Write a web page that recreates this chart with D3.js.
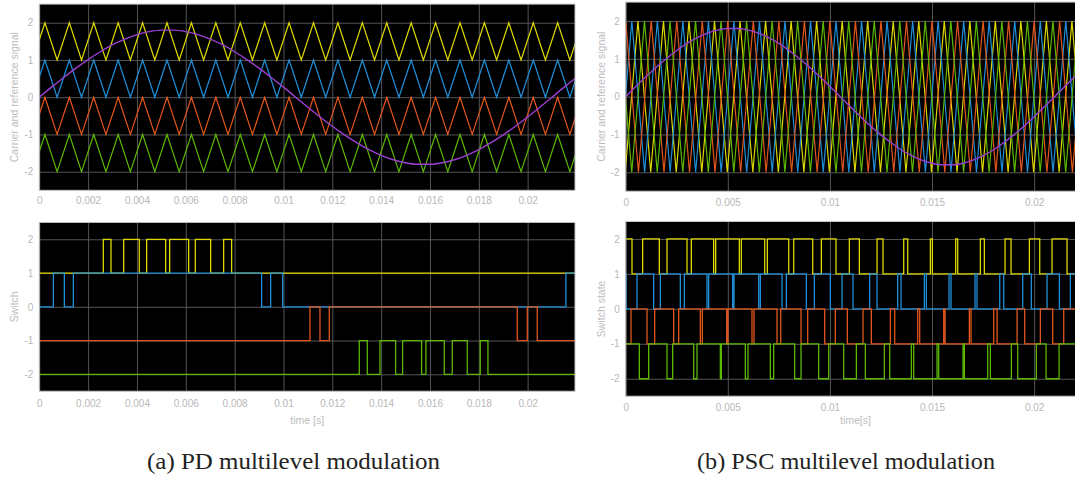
<!DOCTYPE html>
<html>
<head>
<meta charset="utf-8">
<script src="https://cdn.jsdelivr.net/npm/d3@7"></script>
<style>
  body { margin: 0; background: #fff; }
  svg { display: block; }
  .tick text { fill: #b8b8b8; font-family: "Liberation Sans", Arial, sans-serif; font-size: 10px; }
  .tick line { stroke: #555; }
  .axis-title { fill: #bdbdbd; font-family: "Liberation Sans", Arial, sans-serif; font-size: 10.5px; }
  .caption { fill: #222; font-family: "Liberation Serif", "Times New Roman", serif; font-size: 24px; }
</style>
</head>
<body>
<svg id="chart" width="1075" height="477"></svg>
<script>
// ---- data (times in ms) ----
const seriesColors = ['#dcd800', '#1e8fd8', '#e2561c', '#5cb800'];   // yellow, blue, orange, green
const refColor = '#9b3fd0';

// reference signal, sampled every 0.5 ms
const refTimes = [0, 0.5, 1, 1.5, 2, 2.5, 3, 3.5, 4, 4.5, 5, 5.5, 6, 6.5, 7, 7.5, 8, 8.5, 9, 9.5,
  10, 10.5, 11, 11.5, 12, 12.5, 13, 13.5, 14, 14.5, 15, 15.5, 16, 16.5, 17, 17.5, 18, 18.5, 19, 19.5,
  20, 20.5, 21, 21.5, 22, 22.5];
const refValues = [0, 0.27, 0.53, 0.78, 1.01, 1.22, 1.41, 1.56, 1.68, 1.76, 1.8, 1.8, 1.76, 1.68, 1.56, 1.41,
  1.22, 1.01, 0.78, 0.53, 0.27, 0, -0.27, -0.53, -0.78, -1.01, -1.22, -1.41, -1.56, -1.68, -1.76, -1.8,
  -1.8, -1.76, -1.68, -1.56, -1.41, -1.22, -1.01, -0.78, -0.53, -0.27, 0, 0.27, 0.53, 0.78];

// PD carriers: shared vertex times (first one is a trough)
const pdCarrierTimes = [-0.27, 0.23, 0.73, 1.23, 1.73, 2.23, 2.73, 3.23, 3.73, 4.23, 4.73, 5.23, 5.73, 6.23,
  6.73, 7.23, 7.73, 8.23, 8.73, 9.23, 9.73, 10.23, 10.73, 11.23, 11.73, 12.23, 12.73, 13.23, 13.73, 14.23,
  14.73, 15.23, 15.73, 16.23, 16.73, 17.23, 17.73, 18.23, 18.73, 19.23, 19.73, 20.23, 20.73, 21.23, 21.73, 22.23];
const pdLow = [1, 0, -1, -2];
const pdHigh = [2, 1, 0, -1];

// PD switch states: start state (0 = low level, 1 = high level) and toggle times
const pdSwitchStart = [0, 0, 0, 0];
const pdEdgesYellow = [2.622, 2.936, 3.455, 4.096, 4.397, 5.175, 5.339, 6.117, 6.390, 7.018, 7.550, 7.877];
const pdEdgesBlue = [0.575, 1.025, 1.394, 9.106, 9.475, 9.966, 21.568];
const pdEdgesOrange = [11.085, 11.495, 11.877, 19.575, 19.985, 20.394];
const pdEdgesGreen = [13.105, 13.433, 13.952, 14.593, 14.880, 15.658, 15.835, 16.586, 16.914, 17.528, 18.060, 18.374];

// PSC carriers (-2..2), vertex times, first one is a trough
const pscCarrierYellow = [-0.025, 0.6, 1.225, 1.85, 2.475, 3.1, 3.725, 4.35, 4.975, 5.6, 6.225, 6.85, 7.475,
  8.1, 8.725, 9.35, 9.975, 10.6, 11.225, 11.85, 12.475, 13.1, 13.725, 14.35, 14.975, 15.6, 16.225, 16.85,
  17.475, 18.1, 18.725, 19.35, 19.975, 20.6, 21.225, 21.85, 22.475, 23.1];
const pscCarrierBlue = [-0.325, 0.3, 0.925, 1.55, 2.175, 2.8, 3.425, 4.05, 4.675, 5.3, 5.925, 6.55, 7.175,
  7.8, 8.425, 9.05, 9.675, 10.3, 10.925, 11.55, 12.175, 12.8, 13.425, 14.05, 14.675, 15.3, 15.925, 16.55,
  17.175, 17.8, 18.425, 19.05, 19.675, 20.3, 20.925, 21.55, 22.175, 22.8];
const pscCarrierOrange = [-0.625, 0, 0.625, 1.25, 1.875, 2.5, 3.125, 3.75, 4.375, 5, 5.625, 6.25, 6.875,
  7.5, 8.125, 8.75, 9.375, 10, 10.625, 11.25, 11.875, 12.5, 13.125, 13.75, 14.375, 15, 15.625, 16.25,
  16.875, 17.5, 18.125, 18.75, 19.375, 20, 20.625, 21.25, 21.875, 22.5, 23.125];
const pscCarrierGreen = [-0.955, -0.33, 0.295, 0.92, 1.545, 2.17, 2.795, 3.42, 4.045, 4.67, 5.295, 5.92,
  6.545, 7.17, 7.795, 8.42, 9.045, 9.67, 10.295, 10.92, 11.545, 12.17, 12.795, 13.42, 14.045, 14.67, 15.295,
  15.92, 16.545, 17.17, 17.795, 18.42, 19.045, 19.67, 20.295, 20.92, 21.545, 22.17, 22.795];

// PSC switch states
const pscSwitchStart = [1, 1, 0, 1];
const pscEdgesYellow = [0.309, 0.831, 1.647, 2.023, 3.002, 3.214, 4.308, 4.406, 5.565, 5.663, 6.806, 6.936,
  7.981, 8.226, 9.156, 9.580, 10.299, 10.952, 11.441, 12.307, 12.600, 13.613, 13.809, 14.918, 15.016,
  16.159, 16.257, 17.367, 17.563, 18.575, 18.869, 19.767, 20.273, 20.877, 21.611];
const pscEdgesBlue = [0.02, 0.553, 1.370, 1.696, 2.675, 2.871, 3.981, 4.063, 5.238, 5.304, 6.512, 6.593,
  7.654, 7.866, 8.846, 9.238, 10.021, 10.593, 11.131, 11.947, 12.307, 13.319, 13.482, 14.624, 14.722,
  15.833, 15.931, 17.106, 17.204, 18.314, 18.510, 19.440, 19.864, 20.632, 21.236, 21.774];
const pscEdgesOrange = [0.260, 1.043, 1.419, 2.349, 2.594, 3.655, 3.753, 4.945, 5.010, 6.185, 6.283, 7.409,
  7.589, 8.585, 8.911, 9.744, 10.266, 10.854, 11.621, 12.029, 12.960, 13.172, 14.298, 14.396, 15.571,
  15.637, 16.828, 16.910, 18.020, 18.184, 19.163, 19.538, 20.305, 20.909, 21.448];
const pscEdgesGreen = [0.668, 1.125, 2.023, 2.300, 3.329, 3.492, 4.634, 4.683, 5.858, 5.989, 7.083, 7.246,
  8.275, 8.585, 9.450, 9.940, 10.674, 11.295, 11.735, 12.666, 12.927, 13.988, 14.102, 15.245, 15.327,
  16.518, 16.583, 17.726, 17.857, 18.885, 19.195, 20.109, 20.583, 21.219];

const pdTicks = [0, 2, 4, 6, 8, 10, 12, 14, 16, 18, 20];
const pscTicks = [0, 5, 10, 15, 20];
const yTicks = [-2, -1, 0, 1, 2];

// ---- drawing ----
const svg = d3.select('#chart');
const fmt = d => String(+(d / 1000).toFixed(3));

function makePanel(cfg) {
  const w = cfg.x1 - cfg.x0, h = cfg.y1 - cfg.y0;
  const g = svg.append('g').attr('transform', `translate(${cfg.x0},${cfg.y0})`);
  const x = d3.scaleLinear().domain(cfg.xDomain).range([0, w]);
  const y = d3.scaleLinear().domain([-2.5, 2.5]).range([h, 0]);

  g.append('rect').attr('width', w).attr('height', h).attr('fill', '#000');

  g.append('g')
      .attr('transform', `translate(0,${h})`)
      .call(d3.axisBottom(x).tickValues(cfg.xTicks).tickFormat(fmt).tickSize(-h).tickPadding(cfg.xPad))
      .call(a => a.select('.domain').remove());

  g.append('g')
      .call(d3.axisLeft(y).tickValues(yTicks).tickFormat(d => String(d)).tickSize(-w).tickPadding(6))
      .call(a => a.select('.domain').remove());

  const clipId = 'clip' + cfg.id;
  g.append('clipPath').attr('id', clipId)
    .append('rect').attr('width', w).attr('height', h);
  const plot = g.append('g').attr('clip-path', `url(#${clipId})`);

  g.append('rect').attr('width', w).attr('height', h)
      .attr('fill', 'none').attr('stroke', '#c4c4c4').attr('stroke-width', 1);

  // y axis title
  svg.append('text')
      .attr('class', 'axis-title')
      .attr('transform', `translate(${cfg.yTitleX},${cfg.y0 + h / 2}) rotate(-90)`)
      .attr('text-anchor', 'middle')
      .attr('dy', '0.35em')
      .text(cfg.yTitle);

  if (cfg.xTitle) {
    svg.append('text')
        .attr('class', 'axis-title')
        .attr('x', cfg.x0 + w / 2)
        .attr('y', cfg.xTitleY)
        .attr('text-anchor', 'middle')
        .text(cfg.xTitle);
  }
  return {plot, x, y};
}

function drawTriangle(p, times, lo, hi, color) {
  const pts = times.map((t, i) => [t, i % 2 === 0 ? lo : hi]);
  p.plot.append('path')
      .attr('d', d3.line().x(d => p.x(d[0])).y(d => p.y(d[1]))(pts))
      .attr('fill', 'none').attr('stroke', color).attr('stroke-width', 1.2);
}

function drawRef(p) {
  const pts = refTimes.map((t, i) => [t, refValues[i]]);
  p.plot.append('path')
      .attr('d', d3.line().curve(d3.curveMonotoneX).x(d => p.x(d[0])).y(d => p.y(d[1]))(pts))
      .attr('fill', 'none').attr('stroke', refColor).attr('stroke-width', 1.4);
}

function drawStairs(p, start, edges, lo, hi, color, tEnd) {
  let s = start;
  const pts = [[0, s]];
  edges.forEach(t => { s = 1 - s; pts.push([t, s]); });
  pts.push([tEnd, s]);
  p.plot.append('path')
      .attr('d', d3.line().curve(d3.curveStepAfter)
        .x(d => p.x(d[0])).y(d => p.y(d[1] ? hi : lo))(pts))
      .attr('fill', 'none').attr('stroke', color).attr('stroke-width', 1.3);
}

// PD panels
const pdTop = makePanel({id: 'a1', x0: 39.3, x1: 575, y0: 4.1, y1: 190.3, xDomain: [0, 21.94],
  xTicks: pdTicks, xPad: 7, yTitle: 'Carrier and reference signal', yTitleX: 14});
pdLow.forEach((lo, i) => drawTriangle(pdTop, pdCarrierTimes, lo, pdHigh[i], seriesColors[i]));
drawRef(pdTop);

const pdBot = makePanel({id: 'a2', x0: 39.3, x1: 575, y0: 222.4, y1: 391.2, xDomain: [0, 21.94],
  xTicks: pdTicks, xPad: 8.5, yTitle: 'Switch', yTitleX: 14, xTitle: 'time [s]', xTitleY: 424});
[pdEdgesYellow, pdEdgesBlue, pdEdgesOrange, pdEdgesGreen].forEach((e, i) =>
  drawStairs(pdBot, pdSwitchStart[i], e, pdLow[i], pdHigh[i], seriesColors[i], 21.94));

// PSC panels
const pscTop = makePanel({id: 'b1', x0: 625.7, x1: 1085.2, y0: 2.1, y1: 191.2, xDomain: [0, 22.5],
  xTicks: pscTicks, xPad: 7.5, yTitle: 'Carrier and reference signal', yTitleX: 601.7});
[pscCarrierYellow, pscCarrierBlue, pscCarrierOrange, pscCarrierGreen].forEach((c, i) =>
  drawTriangle(pscTop, c, -2, 2, seriesColors[i]));
drawRef(pscTop);

const pscBot = makePanel({id: 'b2', x0: 625.7, x1: 1085.2, y0: 221.5, y1: 396.2, xDomain: [0, 22.5],
  xTicks: pscTicks, xPad: 7.5, yTitle: 'Switch state', yTitleX: 601.7, xTitle: 'time[s]', xTitleY: 424});
[pscEdgesYellow, pscEdgesBlue, pscEdgesOrange, pscEdgesGreen].forEach((e, i) =>
  drawStairs(pscBot, pscSwitchStart[i], e, pdLow[i], pdHigh[i], seriesColors[i], 22.5));

// captions
svg.append('text').attr('class', 'caption')
    .attr('x', 293.5).attr('y', 469).attr('text-anchor', 'middle')
    .attr('textLength', 293).attr('lengthAdjust', 'spacingAndGlyphs')
    .text('(a) PD multilevel modulation');
svg.append('text').attr('class', 'caption')
    .attr('x', 846).attr('y', 469).attr('text-anchor', 'middle')
    .attr('textLength', 298).attr('lengthAdjust', 'spacingAndGlyphs')
    .text('(b) PSC multilevel modulation');
</script>
</body>
</html>
